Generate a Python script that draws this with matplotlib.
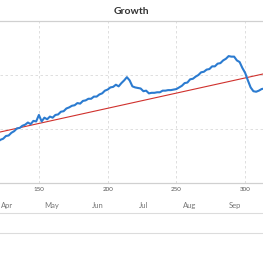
import matplotlib
matplotlib.use("Agg")
import matplotlib.pyplot as plt
from matplotlib.lines import Line2D

plt.rcParams['font.family'] = ['Lato', 'DejaVu Sans']

# daily growth index (every 2nd day)
days = list(range(120, 318, 2))
values = [38, 40, 41, 43.5, 44, 46.5, 48, 50.5, 51, 53,
          54, 56, 54.5, 57.5, 57, 63, 57, 60.5, 59, 61.5,
          60.5, 63, 63.5, 66, 66.5, 69, 70, 71.5, 72, 74,
          73.5, 76, 76.5, 78, 78, 80, 80, 82, 83, 85.5,
          86.5, 88.5, 89, 91, 89.5, 92.5, 95, 98, 95, 89.5,
          88.5, 88, 87.5, 85, 85.5, 83, 83.5, 83.5, 84, 84,
          85.5, 85.5, 86, 86, 86.5, 87, 88.5, 90, 92.5, 93,
          96, 96.5, 98.5, 100, 102.5, 103, 105, 105.5, 108, 108,
          110.5, 111, 113.5, 115, 117.5, 117, 117, 113.5, 112, 106.5,
          102, 95, 88.5, 85, 84.5, 85.5, 87, 87.5, 88]

# linear trend
trend_days = [110, 320]
trend_vals = [43.9, 102.9]

xticks = [150, 200, 250, 300]
months = ['Apr', 'May', 'Jun', 'Jul', 'Aug', 'Sep']
month_pos = [126.8, 159.4, 192.7, 226.0, 259.4, 292.7]

fig = plt.figure(figsize=(2.63, 2.60), dpi=100)
ax = fig.add_axes([0, 1 - 183 / 260, 1, 162 / 260])

ax.plot(trend_days, trend_vals, color='#d0312d', lw=0.8, zorder=3)
ax.plot(days, values, color='#2b7bd0', lw=1.5, zorder=4)

ax.set_xlim(121.7, 313)
ax.set_ylim(0, 150)
ax.set_xticks(xticks)
ax.set_yticks([0, 50, 100, 150])
ax.tick_params(axis='x', length=0, pad=3, labelsize=4.5, labelcolor='#555555')
ax.tick_params(axis='y', left=False, labelleft=False)
ax.grid(True, color='#d9d9d9', ls=(0, (3, 3)), lw=0.6)
for s in ['left', 'right']:
    ax.spines[s].set_visible(False)
for s in ['top', 'bottom']:
    ax.spines[s].set_color('#d0d0d0')
    ax.spines[s].set_linewidth(0.9)

sec = ax.secondary_xaxis('bottom')
sec.set_xticks(month_pos, labels=months)
sec.tick_params(length=0, pad=14, labelsize=5.5, labelcolor='#777777')
sec.spines['bottom'].set_visible(False)

fig.suptitle('Growth', y=1 - 11 / 260, va='center', fontsize=7.5,
             fontweight='bold', color='#333333')

for yy in [213, 233]:
    fig.add_artist(Line2D([0, 1], [1 - yy / 260] * 2, color='#dcdcdc', lw=0.8))

fig.savefig('out.png', dpi=100)
